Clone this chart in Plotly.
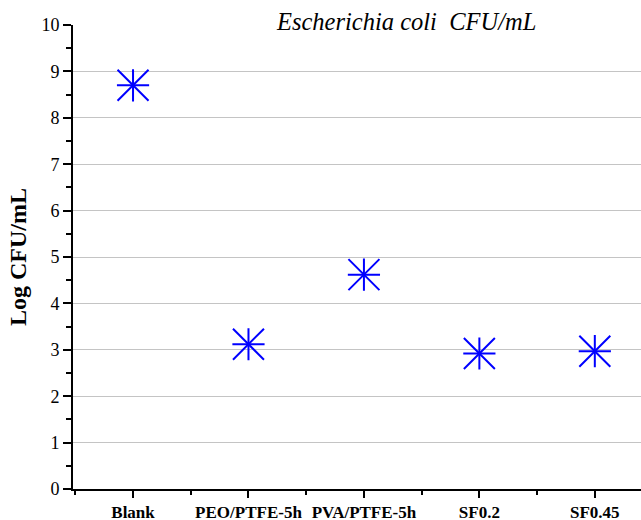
import plotly.graph_objects as go

categories = ["Blank", "PEO/PTFE-5h", "PVA/PTFE-5h", "SF0.2", "SF0.45"]
log_cfu = [8.70, 3.12, 4.62, 2.92, 2.97]
y_ticks = [0, 1, 2, 3, 4, 5, 6, 7, 8, 9, 10]
grid_vals = [1, 2, 3, 4, 5, 6, 7, 8, 9]

x_idx = list(range(len(categories)))
BLUE = "#0000ff"
FONT = "Liberation Serif"

fig = go.Figure()
fig.add_trace(go.Scatter(x=[None], y=[None], yaxis="y2", showlegend=False, hoverinfo="skip"))
fig.add_trace(go.Scatter(
    x=x_idx, y=log_cfu, mode="markers",
    marker=dict(symbol="x-thin-open", size=31, color=BLUE,
                line=dict(color=BLUE, width=2)),
    showlegend=False, hoverinfo="skip"))
fig.add_trace(go.Scatter(
    x=x_idx, y=log_cfu, mode="markers",
    marker=dict(symbol="cross-thin-open", size=23, color=BLUE,
                line=dict(color=BLUE, width=2)),
    showlegend=False))

fig.update_layout(
    width=641, height=520,
    margin=dict(l=73, r=0, t=25, b=31, autoexpand=False),
    paper_bgcolor="white", plot_bgcolor="white",
    font=dict(family=FONT, color="black"),
    xaxis=dict(
        range=[-0.52, 4.40], automargin=False,
        tickmode="array", tickvals=x_idx, ticktext=categories,
        tickfont=dict(family=FONT, size=17, color="black", weight="bold"),
        showline=True, linecolor="black", linewidth=2,
        ticks="outside", ticklen=7, tickwidth=1.5, tickcolor="black",
        minor=dict(tickmode="linear", tick0=-0.5, dtick=1, ticks="outside",
                   ticklen=4, tickwidth=1.5, tickcolor="black"),
        showgrid=False, zeroline=False,
    ),
    yaxis=dict(
        range=[0, 10], automargin=False,
        tickmode="array", tickvals=y_ticks,
        tickfont=dict(family=FONT, size=18, color="black"),
        showline=True, linecolor="black", linewidth=2,
        ticks="outside", ticklen=8, tickwidth=1.5, tickcolor="black",
        minor=dict(tickmode="linear", tick0=0.5, dtick=1, ticks="outside",
                   ticklen=5, tickwidth=1.5, tickcolor="black"),
        showgrid=False, zeroline=False,
        title=dict(text="<b>Log CFU/mL</b>", font=dict(family=FONT, size=24, color="black"),
                   standoff=8),
    ),
    yaxis2=dict(
        range=[0, 10], overlaying="y", side="left", automargin=False,
        tickmode="array", tickvals=grid_vals,
        showticklabels=False, ticks="", showline=False,
        showgrid=True, gridcolor="#c4c4c4", gridwidth=1, zeroline=False,
        layer="below traces",
    ),
    annotations=[dict(
        text="<i>Escherichia coli\u00a0\u00a0CFU/mL</i>",
        xref="paper", yref="paper", x=0.587, y=1, yshift=4,
        xanchor="center", yanchor="middle", showarrow=False,
        font=dict(family=FONT, size=24.5, color="black"),
    )],
)

fig.write_html("out.html",
               config={"displayModeBar": False},
               post_script="document.body.style.margin='0';document.body.style.overflow='hidden';")
